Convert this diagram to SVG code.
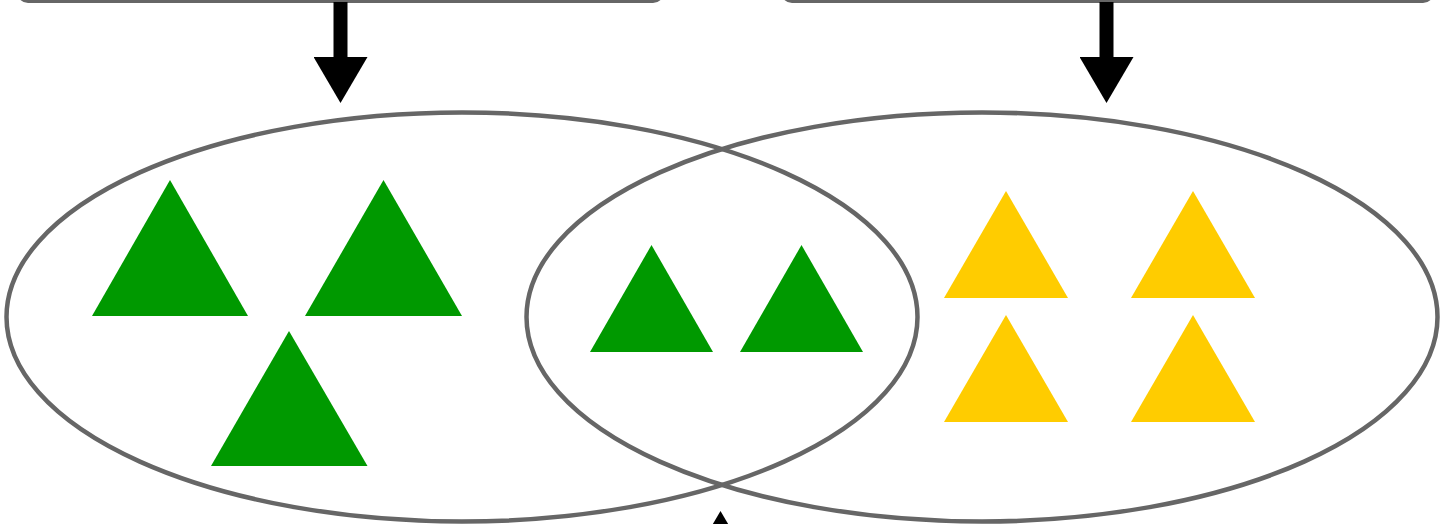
<svg xmlns="http://www.w3.org/2000/svg" width="1452" height="524" viewBox="0 0 1452 524">
<defs>
<style>
.box{fill:#fff;stroke:#666;stroke-width:4}
.set{fill:none;stroke:#666;stroke-width:4.5}
.g{fill:#009900}
.y{fill:#FFCC00}
.conn{stroke:#000;stroke-width:14;fill:none}
</style>
<marker id="ah" markerUnits="userSpaceOnUse" markerWidth="48" markerHeight="54" viewBox="0 0 48 54" refX="0" refY="27" orient="auto">
<path d="M0,0 L46,27 L0,54 Z" fill="#000"/>
</marker>
</defs>
<rect width="1452" height="524" fill="#fff"/>
<g id="box-left"><rect class="box" x="19" y="-60" width="643" height="61" rx="9"/></g>
<g id="box-right"><rect class="box" x="783" y="-60" width="649" height="61" rx="9"/></g>
<g id="set-left"><ellipse class="set" cx="462" cy="317" rx="455.5" ry="204.5"/></g>
<g id="set-right"><ellipse class="set" cx="982" cy="317" rx="455.5" ry="204.5"/></g>
<g id="green-items">
<polygon class="g" points="170,180 248,316 92,316"/>
<polygon class="g" points="383.5,180 462,316 305,316"/>
<polygon class="g" points="289,331 367.5,466 211,466"/>
<polygon class="g" points="651.5,245 713,352 590,352"/>
<polygon class="g" points="801.5,245 863,352 740,352"/>
</g>
<g id="yellow-items">
<polygon class="y" points="1006,191 1068,298 944,298"/>
<polygon class="y" points="1193,191 1255,298 1131,298"/>
<polygon class="y" points="1006,315 1068,422 944,422"/>
<polygon class="y" points="1193,315 1255,422 1131,422"/>
</g>
<g id="connectors">
<line class="conn" x1="340.5" y1="2" x2="340.5" y2="57" marker-end="url(#ah)"/>
<line class="conn" x1="1106.5" y1="2" x2="1106.5" y2="57" marker-end="url(#ah)"/>
<line class="conn" x1="720.5" y1="620" x2="720.5" y2="557" marker-end="url(#ah)"/>
</g>
</svg>
